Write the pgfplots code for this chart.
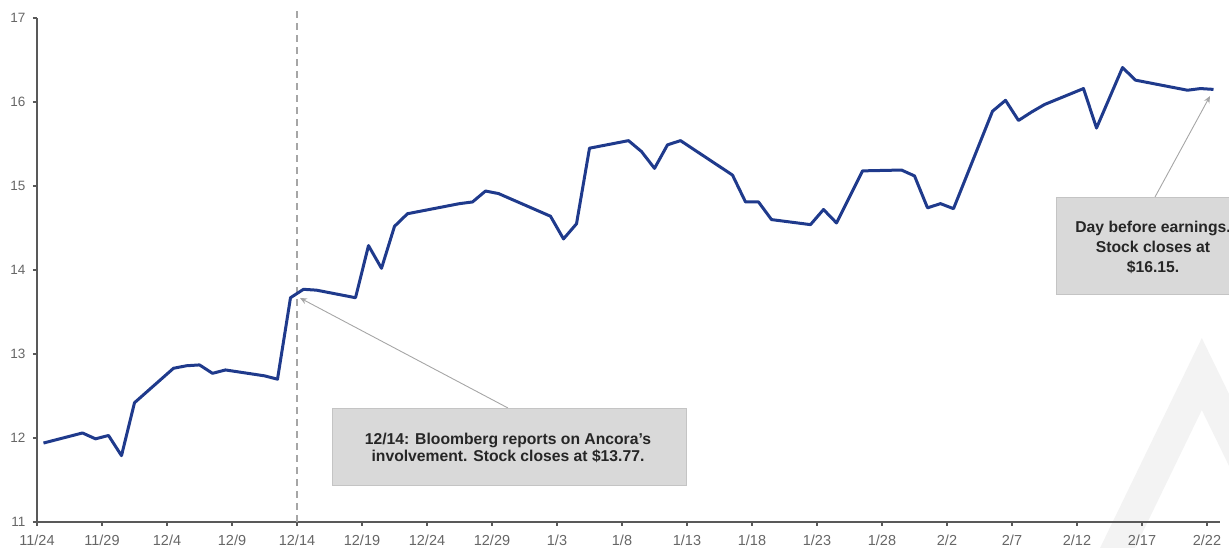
\documentclass[border=0pt]{standalone}
\usepackage{fontspec}
\setmainfont{Liberation Sans}
\usepackage{pgfplots}
\pgfplotsset{compat=1.18}
\usetikzlibrary{arrows.meta}
\definecolor{navy}{HTML}{1F3A8C}
\definecolor{axisgrey}{HTML}{595959}
\definecolor{labelgrey}{HTML}{666666}
\definecolor{dashgrey}{HTML}{A6A6A6}
\definecolor{boxfill}{HTML}{D9D9D9}
\definecolor{boxline}{HTML}{C4C4C4}
\definecolor{wmark}{HTML}{F3F3F3}
\begin{document}
\begin{tikzpicture}
% faint logo watermark behind everything (axis lower-left corner is at (0,0))
\fill[wmark] (1164.8pt,183.96pt) -- (1266.98pt,-26.04pt) -- (1232.01pt,-26.04pt) -- (1164.8pt,111.97pt) -- (1097.98pt,-26.04pt) -- (1063.01pt,-26.04pt) -- cycle;
\begin{axis}[
  at={(0,0)}, anchor=south west,
  x=13pt, y=84pt,
  xmin=0, xmax=91, ymin=11, ymax=17,
  axis x line*=bottom, axis y line*=left,
  axis line style={draw=axisgrey, line width=2pt},
  xtick={0,5,...,90},
  xticklabels={11/24,11/29,12/4,12/9,12/14,12/19,12/24,12/29,1/3,1/8,1/13,1/18,1/23,1/28,2/2,2/7,2/12,2/17,2/22},
  ytick={11,12,...,17},
  tick align=outside, major tick length=4pt,
  tick style={draw=axisgrey, line width=1.2pt},
  xticklabel style={font=\fontsize{14.5}{16}\selectfont, text=labelgrey, yshift=-5pt},
  yticklabel style={font=\fontsize{13.5}{15}\selectfont, text=labelgrey, xshift=-4pt},
  /pgf/number format/assume math mode=true,
  clip=false,
]
% dashed event line
\draw[dashgrey, line width=1.5pt, dash pattern=on 7pt off 5pt] (axis cs:20,11) -- (axis cs:20,17.1);
\addplot[navy, line width=3pt, line join=round, mark=none] coordinates {
(0.5,11.94) (3.5,12.06) (4.5,11.99) (5.5,12.03) (6.5,11.79) (7.5,12.42)
(10.5,12.83) (11.5,12.86) (12.5,12.87) (13.5,12.77) (14.5,12.81)
(17.5,12.74) (18.5,12.70) (19.5,13.67) (20.5,13.77) (21.5,13.76)
(24.5,13.67) (25.5,14.29) (26.5,14.02) (27.5,14.52) (28.5,14.67)
(32.5,14.79) (33.5,14.81) (34.5,14.94) (35.5,14.91)
(39.5,14.64) (40.5,14.37) (41.5,14.55) (42.5,15.45)
(45.5,15.54) (46.5,15.41) (47.5,15.21) (48.5,15.49) (49.5,15.54)
(53.5,15.13) (54.5,14.81) (55.5,14.81) (56.5,14.60)
(59.5,14.54) (60.5,14.72) (61.5,14.56) (62.5,14.87) (63.5,15.18)
(66.5,15.19) (67.5,15.12) (68.5,14.74) (69.5,14.79) (70.5,14.73)
(73.5,15.89) (74.5,16.02) (75.5,15.78) (76.5,15.88) (77.5,15.97)
(80.5,16.16) (81.5,15.69) (82.5,16.05) (83.5,16.41) (84.5,16.26)
(88.5,16.14) (89.5,16.16) (90.5,16.15)
};
% annotation 1
\draw[dashgrey, line width=0.9pt, -{Stealth[length=7pt,width=6pt]}] (axis cs:36.23,12.357) -- (axis cs:20.23,13.667);
\filldraw[fill=boxfill, draw=boxline, line width=0.8pt] (axis cs:22.69,12.357) rectangle (axis cs:49.92,11.44);
\node[align=center, font=\bfseries\fontsize{15.7}{17}\selectfont, text=black!85] at (axis cs:36.23,11.887)
  {12/14: Bloomberg reports on Ancora’s\\involvement. Stock closes at \$13.77.};
% annotation 2
\draw[dashgrey, line width=0.9pt, -{Stealth[length=7pt,width=6pt]}] (axis cs:86.0,14.869) -- (axis cs:90.23,16.071);
\filldraw[fill=boxfill, draw=boxline, line width=0.8pt] (axis cs:78.38,14.869) rectangle (axis cs:95,13.714);
\node[align=center, font=\bfseries\fontsize{15.7}{20}\selectfont, text=black!85] at (axis cs:85.85,14.274)
  {Day before earnings.\\Stock closes at\\\$16.15.};
\coordinate (ll) at (axis cs:0,11);
\end{axis}
\pgfresetboundingbox
\path[use as bounding box] ([shift={(-37pt,-26pt)}]ll) rectangle ([shift={(1192pt,522pt)}]ll);
\end{tikzpicture}
\end{document}
